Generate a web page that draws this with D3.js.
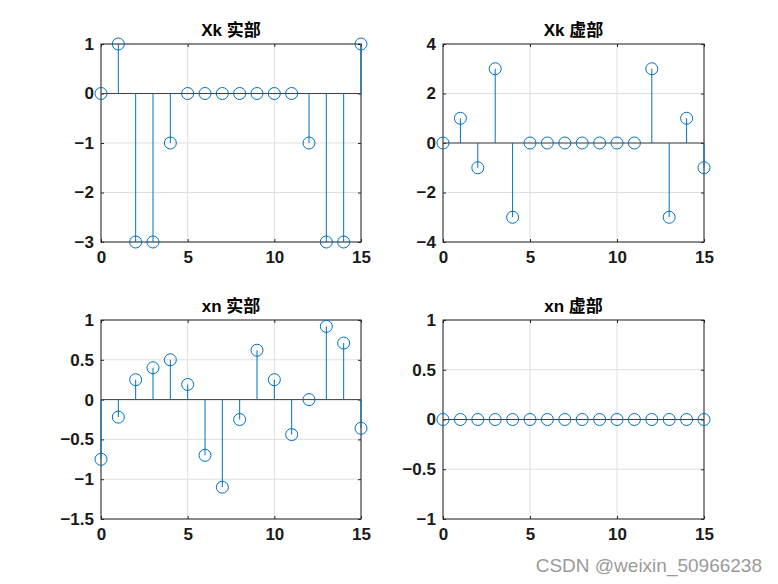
<!DOCTYPE html>
<html><head><meta charset="utf-8">
<script src="https://cdn.jsdelivr.net/npm/d3@7"></script>
<style>body{margin:0;background:#fff}svg{display:block}</style>
</head><body>
<script>
const n = d3.range(16);
const XkReal = [0,1,-3,-3,-1,0,0,0,0,0,0,0,-1,-3,-3,1];
const XkImag = [0,1,-1,3,-3,0,0,0,0,0,0,0,3,-3,1,-1];
const xnReal = [-0.75,-0.22,0.25,0.40,0.50,0.19,-0.70,-1.10,-0.25,0.62,0.25,-0.44,0,0.92,0.71,-0.36];
const xnImag = [0,0,0,0,0,0,0,0,0,0,0,0,0,0,0,0];
const titles = ["Xk 实部","Xk 虚部","xn 实部","xn 虚部"];
const yDomains = [[-3,1],[-4,4],[-1.5,1],[-1,1]];
const yTicks = [[-3,-2,-1,0,1],[-4,-2,0,2,4],[-1.5,-1,-0.5,0,0.5,1],[-1,-0.5,0,0.5,1]];
const xTicks = [0,5,10,15];
const series = [XkReal, XkImag, xnReal, xnImag];

const W=778,H=584;
const svg=d3.select("body").append("svg").attr("width",W).attr("height",H);
const boxes=[
 {l:101,r:361,t:44,b:242},
 {l:443,r:704,t:44,b:242},
 {l:101,r:361,t:320,b:519},
 {l:443,r:704,t:320,b:519}
];
const font="'Liberation Sans', Arial, 'Noto Sans CJK SC', sans-serif";
const fmt=d=>d===0?"0":(d<0?"\u2212"+String(Math.abs(d)):String(d));
boxes.forEach((bx,i)=>{
  const x=d3.scaleLinear().domain([0,15]).range([bx.l,bx.r]);
  const y=d3.scaleLinear().domain(yDomains[i]).range([bx.b,bx.t]);
  const g=svg.append("g");
  g.selectAll(".gx").data(xTicks).join("line").attr("x1",d=>x(d)).attr("x2",d=>x(d))
    .attr("y1",bx.t).attr("y2",bx.b).attr("stroke","#dfdfdf").attr("stroke-width",1);
  g.selectAll(".gy").data(yTicks[i]).join("line").attr("y1",d=>y(d)).attr("y2",d=>y(d))
    .attr("x1",bx.l).attr("x2",bx.r).attr("stroke","#dfdfdf").attr("stroke-width",1);
  const ax=d3.axisBottom(x).tickValues(xTicks).tickSize(-3).tickPadding(9).tickFormat(d3.format("d"));
  const axT=d3.axisTop(x).tickValues(xTicks).tickSize(-3).tickFormat("");
  const ay=d3.axisLeft(y).tickValues(yTicks[i]).tickSize(-3).tickPadding(7).tickFormat(fmt);
  const ayR=d3.axisRight(y).tickValues(yTicks[i]).tickSize(-3).tickFormat("");
  const style=s=>{s.select(".domain").remove();s.selectAll("line").attr("stroke","#262626");
    s.selectAll("text").attr("fill","#1a1a1a").style("font-family",font).style("font-size","17px").style("font-weight","bold");};
  g.append("g").attr("transform",`translate(0,${bx.b})`).call(ax).call(style);
  g.append("g").attr("transform",`translate(0,${bx.t})`).call(axT).call(style);
  g.append("g").attr("transform",`translate(${bx.l},0)`).call(ay).call(style);
  g.append("g").attr("transform",`translate(${bx.r},0)`).call(ayR).call(style);
  g.append("rect").attr("x",bx.l).attr("y",bx.t).attr("width",bx.r-bx.l).attr("height",bx.b-bx.t)
    .attr("fill","none").attr("stroke","#262626").attr("stroke-width",1);
  g.append("line").attr("x1",bx.l).attr("x2",bx.r).attr("y1",y(0)).attr("y2",y(0))
    .attr("stroke","#404040").attr("stroke-width",1);
  const data=n.map(k=>({k,v:series[i][k]}));
  g.selectAll(".stem").data(data).join("line").attr("x1",d=>x(d.k)).attr("x2",d=>x(d.k))
    .attr("y1",y(0)).attr("y2",d=>y(d.v)).attr("stroke","#0072BD").attr("stroke-width",1);
  g.selectAll(".mk").data(data).join("circle").attr("cx",d=>x(d.k)).attr("cy",d=>y(d.v))
    .attr("r",6).attr("fill","none").attr("stroke","#0072BD").attr("stroke-width",1);
  g.append("text").attr("x",(bx.l+bx.r)/2).attr("y",bx.t-8).attr("text-anchor","middle")
    .style("font-family",font).style("font-size","17px").style("font-weight","bold").attr("fill","#000")
    .text(titles[i]);
});
svg.append("text").attr("x",762).attr("y",572).attr("text-anchor","end")
  .style("font-family","'Liberation Sans', Arial, sans-serif").style("font-size","19px").attr("fill","#9a9a9a")
  .text("CSDN @weixin_50966238");
</script>
</body></html>
